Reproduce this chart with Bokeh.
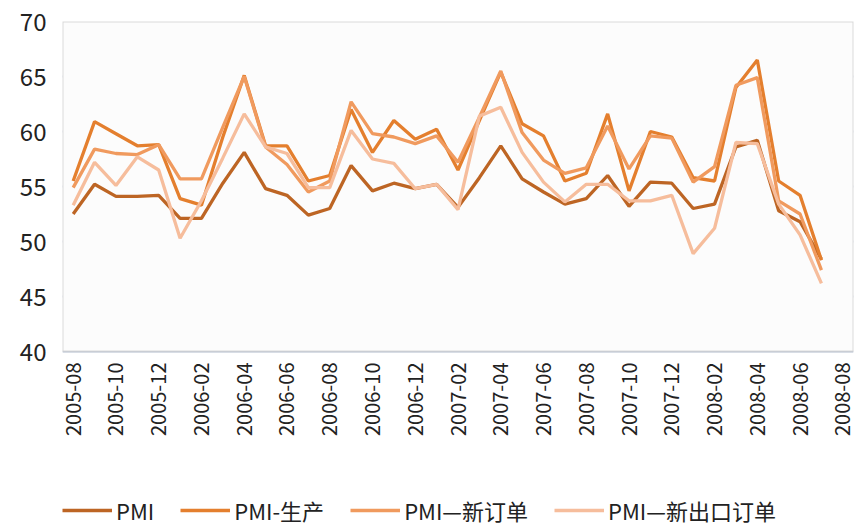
import math
from bokeh.plotting import figure
from bokeh.models import Range1d, FixedTicker, Legend, LegendItem, BoxAnnotation
from bokeh.core.properties import value
from bokeh.embed import file_html
from bokeh.resources import INLINE

months = ["2005-08","2005-09","2005-10","2005-11","2005-12","2006-01","2006-02","2006-03",
          "2006-04","2006-05","2006-06","2006-07","2006-08","2006-09","2006-10","2006-11",
          "2006-12","2007-01","2007-02","2007-03","2007-04","2007-05","2007-06","2007-07",
          "2007-08","2007-09","2007-10","2007-11","2007-12","2008-01","2008-02","2008-03",
          "2008-04","2008-05","2008-06","2008-07"]
tick_labels = ["2005-08","2005-10","2005-12","2006-02","2006-04","2006-06","2006-08","2006-10",
               "2006-12","2007-02","2007-04","2007-06","2007-08","2007-10","2007-12","2008-02",
               "2008-04","2008-06","2008-08"]
y_ticks = [40, 45, 50, 55, 60, 65, 70]

pmi = [52.5, 55.2, 54.1, 54.1, 54.2, 52.1, 52.1, 55.3, 58.1, 54.8, 54.2, 52.4,
       53.0, 56.9, 54.6, 55.3, 54.8, 55.2, 53.1, 55.8, 58.7, 55.7, 54.5, 53.4,
       53.9, 56.0, 53.2, 55.4, 55.3, 53.0, 53.4, 58.6, 59.2, 52.8, 51.8, 48.4]
pmi_prod = [55.5, 60.9, 59.8, 58.7, 58.8, 53.9, 53.3, 59.5, 65.1, 58.7, 58.7, 55.5,
            56.0, 62.0, 58.1, 61.0, 59.3, 60.2, 56.5, 61.0, 65.4, 60.7, 59.6, 55.5,
            56.2, 61.6, 54.6, 60.0, 59.5, 55.8, 55.5, 64.0, 66.5, 55.5, 54.2, 48.3]
pmi_new = [54.9, 58.4, 58.0, 57.9, 58.8, 55.7, 55.7, 60.4, 65.0, 58.6, 57.0, 54.5,
           55.5, 62.7, 59.8, 59.5, 58.9, 59.6, 57.2, 61.3, 65.5, 59.9, 57.4, 56.2,
           56.7, 60.5, 56.6, 59.6, 59.4, 55.4, 56.8, 64.2, 64.9, 53.7, 52.5, 47.4]
pmi_export = [53.3, 57.2, 55.1, 57.7, 56.5, 50.3, 53.7, 57.6, 61.6, 58.6, 58.0, 54.9,
              54.9, 60.1, 57.5, 57.1, 54.8, 55.2, 52.9, 61.4, 62.2, 58.1, 55.4, 53.6,
              55.2, 55.2, 53.7, 53.7, 54.2, 48.9, 51.2, 59.0, 58.9, 53.4, 50.6, 46.2]

series_names = ["PMI", "PMI-生产", "PMI—新订单", "PMI—新出口订单"]
series_colors = ["#bd6524", "#e47f2e", "#f09a5e", "#f6bd9c"]

x = list(range(len(months)))
tick_pos = [months.index(t) if t in months else len(months) for t in tick_labels]
x_lo, x_hi = -0.5, len(tick_labels) * 2 - 1.5
y_lo, y_hi = y_ticks[0], y_ticks[-1]
# the frame runs below the value axis, to hold the month labels and the legend
y_bottom = y_lo - (y_hi - y_lo) * 175.0 / 330.0

p = figure(frame_width=791, frame_height=505, output_backend="svg", toolbar_location=None,
           x_range=Range1d(x_lo, x_hi), y_range=Range1d(y_bottom, y_hi),
           x_axis_location=None,
           min_border_left=62, min_border_right=5, min_border_top=21, min_border_bottom=0)
p.background_fill_color = "white"
p.border_fill_color = "white"
p.outline_line_color = None

p.add_layout(BoxAnnotation(left=x_lo, right=x_hi, bottom=y_lo, top=y_hi,
                           fill_color="#fcfcfc", fill_alpha=1.0, line_color=None,
                           level="underlay"))

renderers = []
for ys, c in zip([pmi, pmi_prod, pmi_new, pmi_export], series_colors):
    r = p.line(x, ys, line_color=c, line_width=3.3)
    renderers.append(r)

p.add_layout(BoxAnnotation(left=x_lo, right=x_hi, bottom=y_lo, top=y_hi,
                           fill_alpha=0, line_color="#8a8a8a", line_width=2,
                           level="overlay"))

p.xgrid.visible = False
p.ygrid.grid_line_color = "#ccd8ec"
p.ygrid.grid_line_width = 2
p.ygrid.level = "image"
p.yaxis.ticker = FixedTicker(ticks=y_ticks)
p.yaxis.axis_line_color = None
p.yaxis.major_tick_line_color = None
p.yaxis.minor_tick_line_color = None
p.yaxis.major_label_text_color = "#222222"
p.yaxis.major_label_text_font = "Noto Sans CJK SC"
p.yaxis.major_label_text_font_size = "24px"
p.yaxis.major_label_standoff = 10

# month labels under the value axis
p.text(x=tick_pos, y=[y_lo] * len(tick_pos), text=tick_labels, angle=math.pi / 2,
       text_align="right", text_baseline="middle", y_offset=11,
       text_font=value("Noto Sans CJK SC"), text_font_size=value("20px"),
       text_color="#222222")

legend = Legend(items=[LegendItem(label=n, renderers=[r]) for n, r in zip(series_names, renderers)],
                orientation="horizontal", location=(0, 0),
                label_text_font="Noto Sans CJK SC", label_text_font_size="22px",
                label_text_color="#222222", glyph_width=50, glyph_height=20,
                spacing=26, label_standoff=4, border_line_color=None,
                background_fill_alpha=0, margin=0, padding=0)
p.add_layout(legend, "center")

open("out.html", "w").write(file_html(p, INLINE))
